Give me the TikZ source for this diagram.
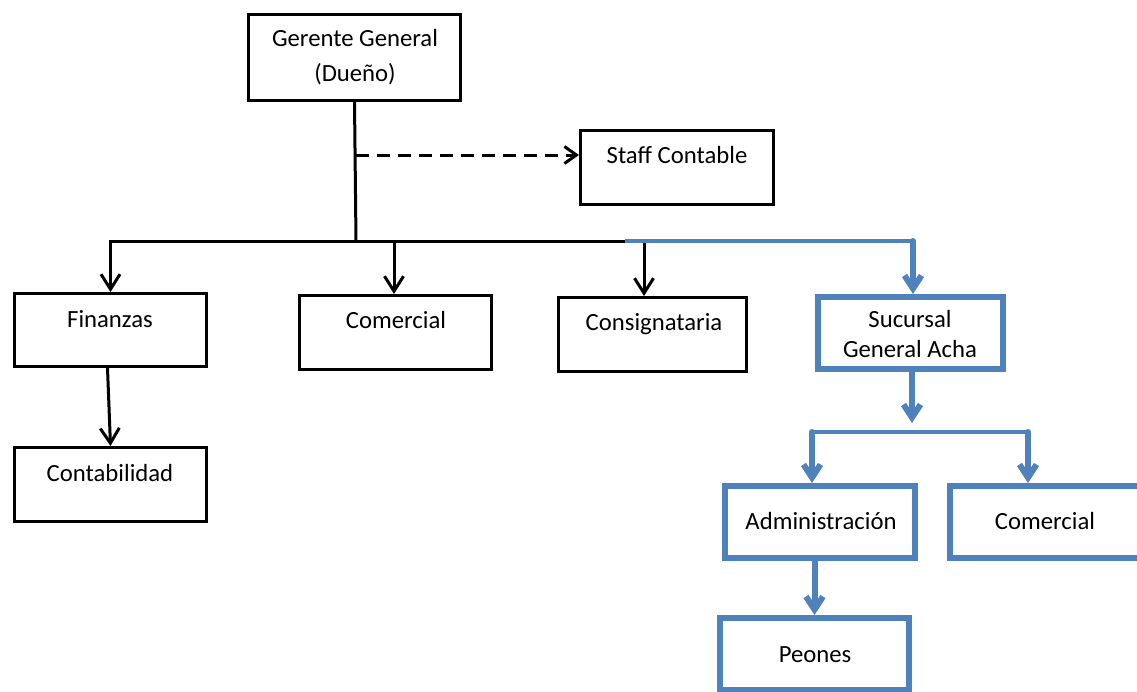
\documentclass[tikz,border=0pt]{standalone}
\usepackage{fontspec}
\setmainfont{Carlito}
\usetikzlibrary{arrows.meta}
\definecolor{obl}{HTML}{4F81BD}
\begin{document}
\begin{tikzpicture}[x=1pt,y=-1pt,
 bbox/.style={draw=black,line width=3pt,inner sep=0pt,fill=white},
 ubox/.style={draw=obl,line width=6pt,inner sep=0pt,fill=white},
 txt/.style={anchor=base,inner sep=0pt,font=\fontsize{24.7}{30}\selectfont},
 bline/.style={draw=black,line width=3pt},
 barr/.style={bline,-{Straight Barb[length=15pt,width=19pt]}},
 uline/.style={draw=obl,line width=4pt},
 uarr/.style={draw=obl,line width=6pt,line cap=round,line join=round,-{Straight Barb[length=13pt,width=17pt]}},
 darr/.style={bline,dash pattern=on 13pt off 8pt,-{Straight Barb[length=12pt,width=17pt]}}
]
\useasboundingbox (0,0) rectangle (1137,691);
\clip (0,0) rectangle (1137,691);

% boxes
\node[bbox,minimum width=212pt,minimum height=86pt] (ger) at (354.5,57.5) {};
\node[bbox,minimum width=193pt,minimum height=74pt] (staff) at (677,167.5) {};
\node[bbox,minimum width=192pt,minimum height=73pt] (fin) at (110.5,330) {};
\node[bbox,minimum width=192pt,minimum height=74pt] (com) at (395.5,332.5) {};
\node[bbox,minimum width=192pt,minimum height=74pt] (cont) at (110.5,484.5) {};
\node[bbox,minimum width=188pt,minimum height=74pt] (con) at (652.5,334.5) {};
\node[ubox,minimum width=185pt,minimum height=72pt] (suc) at (910.5,333) {};
\node[ubox,minimum width=190pt,minimum height=72pt] (adm) at (820,522) {};
\node[ubox,minimum width=190pt,minimum height=72pt] (com2) at (1045,522) {};
\node[ubox,minimum width=189pt,minimum height=72pt] (peo) at (814.5,654) {};

% texts
\node[txt] (gerT1) at (355,46) {Gerente General};
\node[txt] (gerT2) at (355,81) {(Dueño)};
\node[txt] (staffT) at (677,163) {Staff Contable};
\node[txt] (finT) at (110,327) {Finanzas};
\node[txt] (comT) at (396,328) {Comercial};
\node[txt] (contT) at (110,481) {Contabilidad};
\node[txt] (conT) at (654,330) {Consignataria};
\node[txt] (sucT1) at (910,327) {Sucursal};
\node[txt] (sucT2) at (910,357) {General Acha};
\node[txt] (admT) at (821,529) {Administración};
\node[txt] (com2T) at (1045,529) {Comercial};
\node[txt] (peoT) at (815,662) {Peones};

% coordinates
\coordinate (j) at (356,241);
\coordinate (bb) at (625,241);
\coordinate (uc) at (913,241);
\coordinate (cmA) at (394,241);
\coordinate (cnA) at (644,241);
\coordinate (d0) at (356,155);
\coordinate (s0) at (912,423);
\coordinate (bl) at (812,432);
\coordinate (br) at (1028,432);

% black connectors
\draw[bline] (ger.south) -- (j);
\draw[bline] (j) -- (bb);
\draw[barr] (j) -| (fin.north);
\draw[barr] (cmA) -- (cmA |- com.north);
\draw[barr] (cnA) -- (cnA |- con.north);
\draw[darr] (d0) -- (d0 -| staff.west);
\draw[barr] ([xshift=-3pt]fin.south) -- (cont.north);

% blue connectors
\draw[uline] (bb) -- (uc);
\draw[uarr] (uc) -- (uc |- suc.north);
\draw[uarr] (suc.south -| s0) -- (s0);
\draw[uline] (bl) -- (br);
\draw[uarr] (bl) -- (bl |- adm.north);
\draw[uarr] (br) -- (br |- com2.north);
\draw[uarr] (adm.south -| peo.north) -- (peo.north);
\end{tikzpicture}
\end{document}
